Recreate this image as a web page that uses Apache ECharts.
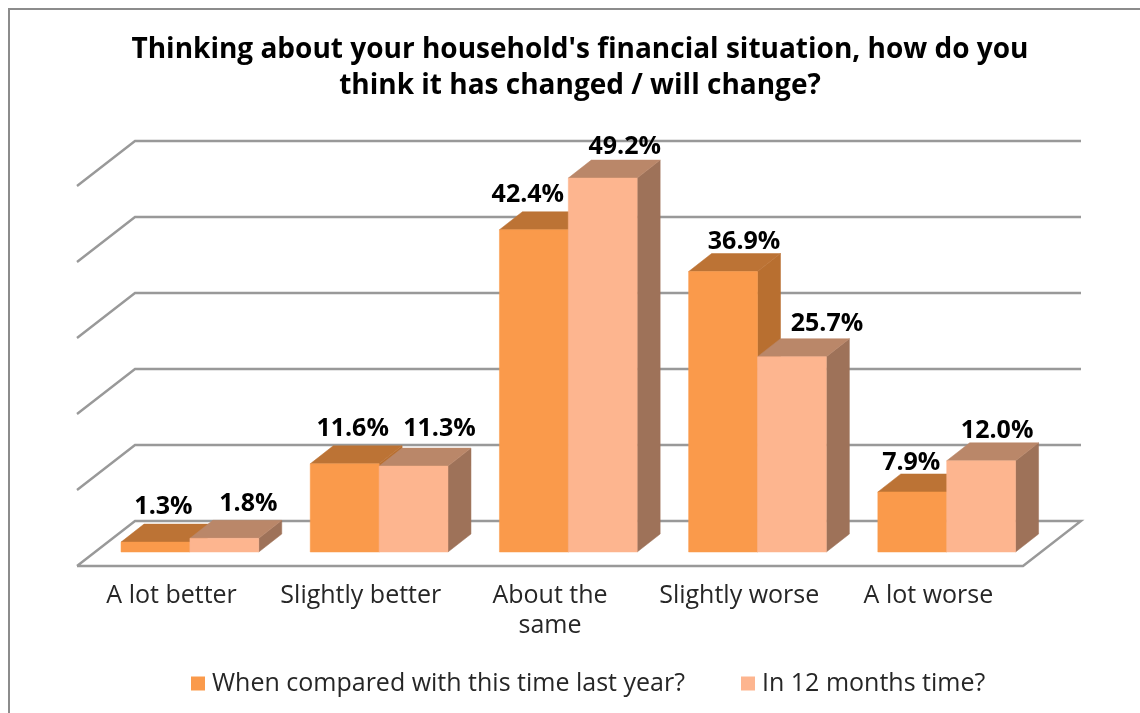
<!DOCTYPE html>
<html><head><meta charset="utf-8">
<style>html,body{margin:0;padding:0;background:#fff}#c{width:1140px;height:713px}</style>
<script src="https://cdn.jsdelivr.net/npm/echarts@6/dist/echarts.min.js"></script></head>
<body><div id="c"></div>
<script>
const titleText = "Thinking about your household's financial situation, how do you\nthink it has changed / will change?";
const categories = ['A lot better','Slightly better','About the\nsame','Slightly worse','A lot worse'];
const lastYear = [1.3,11.6,42.4,36.9,7.9];
const nextYear = [1.8,11.3,49.2,25.7,12.0];
const gridValues = [0,10,20,30,40,50];
const nameA = 'When compared with this time last year?';
const nameB = 'In 12 months time?';
// hand placement of the value labels, relative to the front-face centre of each bar top
const nudgeA = [[8,-35],[8,-35],[-6,-35],[21,-30],[-1,-29]];
const nudgeB = [[24,-34],[26,-37],[22,-31],[35,-33],[16,-30]];

const FONT = '"Open Sans"';
const DEPTH = [58,-45], BAR_DEPTH = [23,-18], PLANE = [18.3,-14], BAR_FRAC = 0.364;

function barGeom(api, i, v, which){
  const p = api.coord([i,v]), p0 = api.coord([i,0]);
  const band = api.size([1,0])[0], w = band*BAR_FRAC;
  const x0 = p[0] + PLANE[0] + (which===0 ? -w : 0);
  return {x0, x1:x0+w, top:p[1]+PLANE[1], base:p0[1]+PLANE[1]};
}
function poly(points, fill, z2){
  return {type:'polygon', shape:{points}, z2:z2||0, style:{fill, stroke:fill, lineWidth:0.5}};
}
function barRender(which, cols){
  return function(params, api){
    const g = barGeom(api, api.value(0), api.value(1), which);
    const dx = BAR_DEPTH[0], dy = BAR_DEPTH[1];
    return {type:'group', children:[
      poly([[g.x1,g.top],[g.x1+dx,g.top+dy],[g.x1+dx,g.base+dy],[g.x1,g.base]], cols[2]),
      poly([[g.x0,g.top],[g.x0+dx,g.top+dy],[g.x1+dx,g.top+dy],[g.x1,g.top]], cols[1]),
      poly([[g.x0,g.top],[g.x1,g.top],[g.x1,g.base],[g.x0,g.base]], cols[0])
    ]};
  };
}
function labelRender(which, nudge){
  return function(params, api){
    const i = api.value(0), v = api.value(1);
    const g = barGeom(api, i, v, which), n = nudge[i];
    return {type:'text', style:{
      x:(g.x0+g.x1)/2+n[0], y:g.top+n[1], text:v.toFixed(1)+'%',
      font:'bold 25px '+FONT, fill:'#000', align:'center', verticalAlign:'middle'}};
  };
}
function wallRender(params, api){
  const v = api.value(0), y = api.coord([0,v])[1];
  const cs = params.coordSys, L = cs.x, R = cs.x+cs.width;
  const pts = [[L,y],[L+DEPTH[0],y+DEPTH[1]],[R+DEPTH[0],y+DEPTH[1]]];
  if (v===0){ pts.push([R,y]); pts.push([L,y]); }
  return {type:'polyline', shape:{points:pts}, style:{fill:null, stroke:'#999999', lineWidth:2.4}};
}
const xy = a => a.map((v,i)=>[i,v]);
const legendCommon = {top:666, icon:'rect', itemWidth:14, itemHeight:14,
  textStyle:{fontFamily:FONT, fontSize:25, color:'#262626', padding:[0,0,0,2]}};

const chart = echarts.init(document.getElementById('c'), null, {renderer:'canvas'});
chart.setOption({
  animation:false, backgroundColor:'#fff',
  title:{text:titleText, left:575, top:27, textAlign:'center',
    textStyle:{fontFamily:FONT, fontWeight:'bold', fontSize:28, lineHeight:36, color:'#000'}},
  legend:[
    Object.assign({data:[nameA], left:186}, legendCommon),
    Object.assign({data:[nameB], left:736}, legendCommon)
  ],
  grid:{left:77, top:186, width:946, height:380},
  xAxis:{type:'category', data:categories, axisLine:{show:false}, axisTick:{show:false},
    axisLabel:{margin:15, fontFamily:FONT, fontSize:25, lineHeight:30, color:'#262626', interval:0}},
  yAxis:{type:'value', min:0, max:50, interval:10, show:false},
  graphic:[{type:'rect', shape:{x:9,y:9,width:1300,height:900}, silent:true,
    style:{fill:null, stroke:'#8c8c8c', lineWidth:2}, z:-1}],
  series:[
    {type:'custom', name:'walls', data:gridValues.map(v=>[v]), renderItem:wallRender, encode:{y:0}, z:1, silent:true},
    {type:'custom', name:nameA, itemStyle:{color:'#FA9A4B'}, data:xy(lastYear), encode:{x:0,y:1}, z:2,
      renderItem:barRender(0,['#FA9A4B','#BC7335','#B86F30'])},
    {type:'custom', name:nameB, itemStyle:{color:'#FDB58F'}, data:xy(nextYear), encode:{x:0,y:1}, z:3,
      renderItem:barRender(1,['#FDB58F','#BA8769','#9E7259'])},
    {type:'custom', name:'labelsA', data:xy(lastYear), encode:{x:0,y:1}, z:4, renderItem:labelRender(0,nudgeA)},
    {type:'custom', name:'labelsB', data:xy(nextYear), encode:{x:0,y:1}, z:4, renderItem:labelRender(1,nudgeB)}
  ]
});
</script></body></html>
